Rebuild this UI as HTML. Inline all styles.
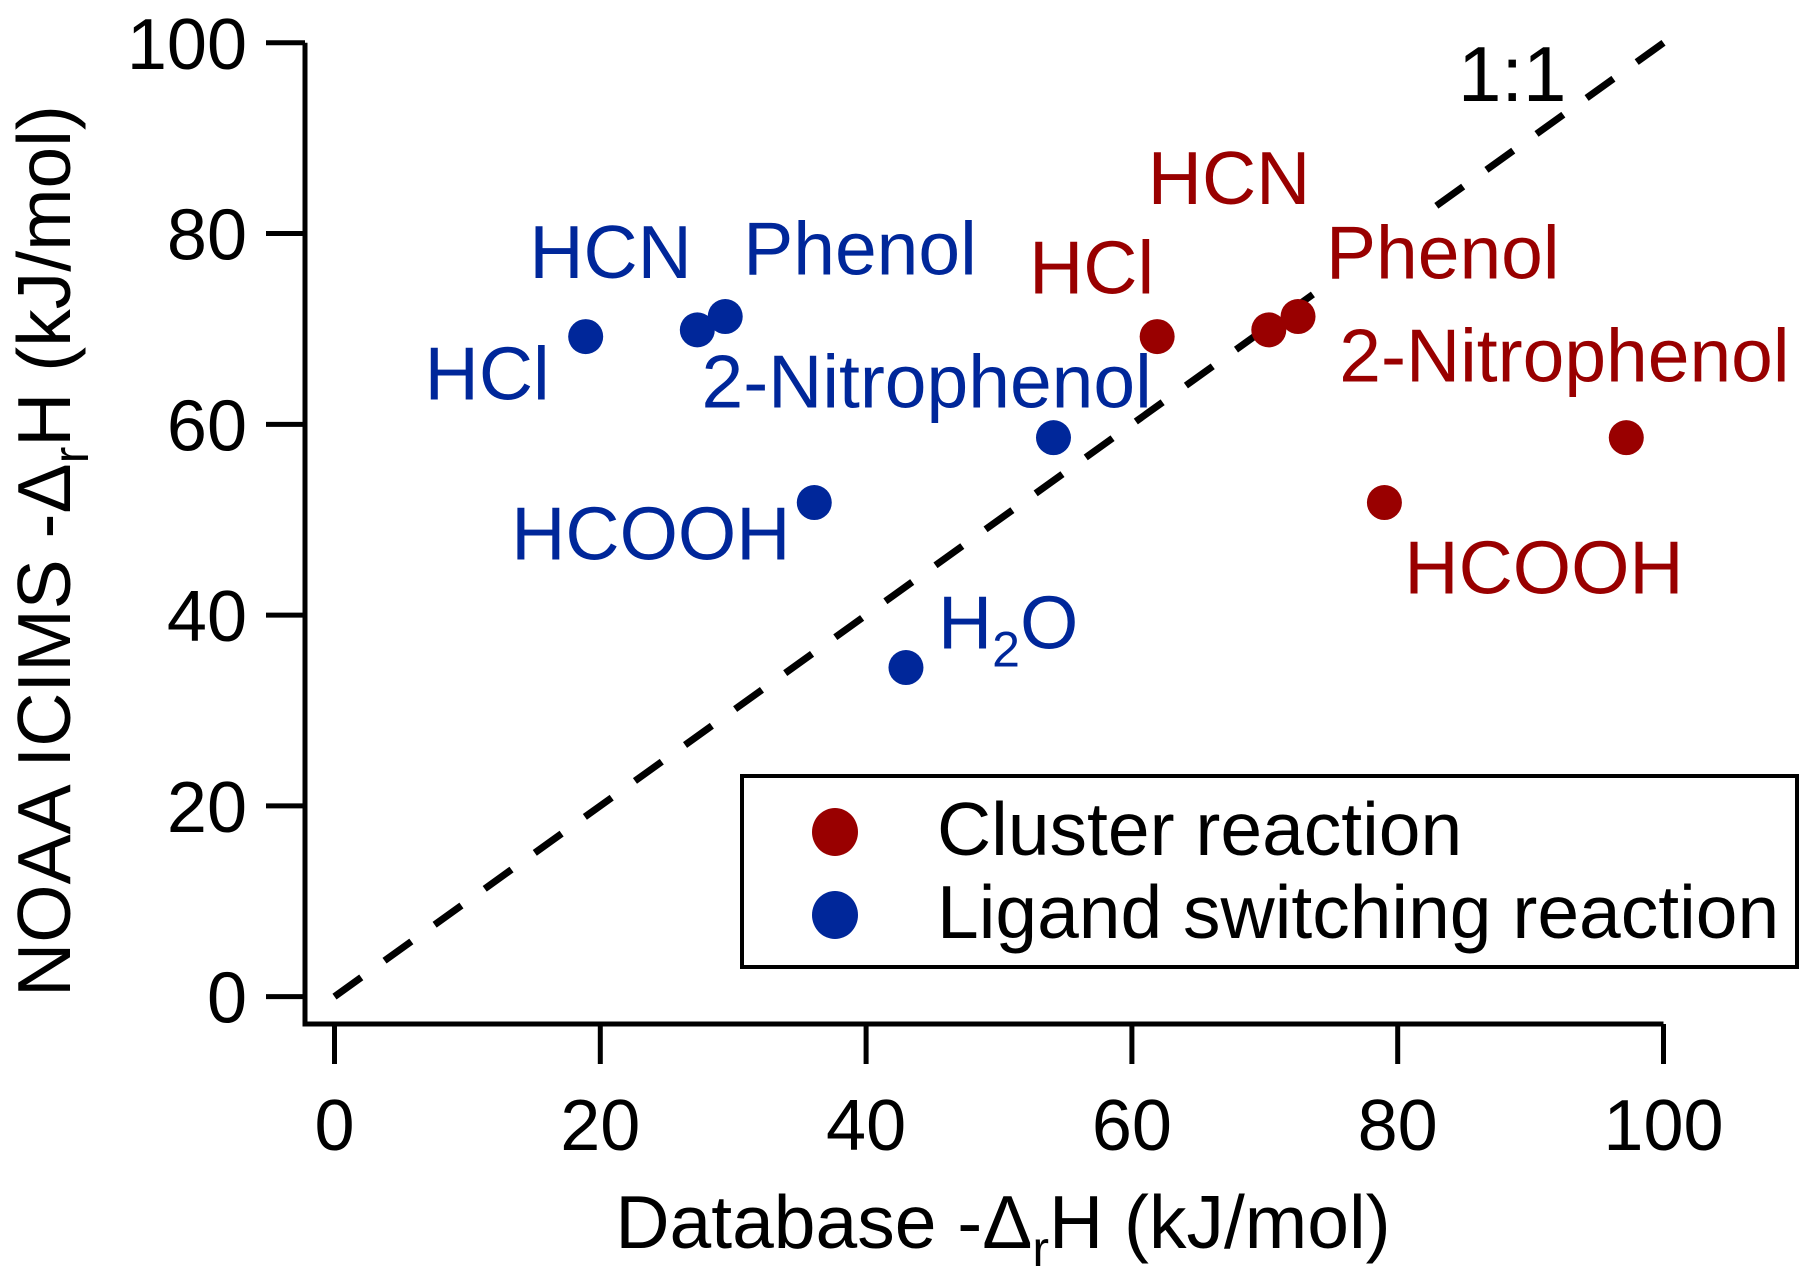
<!DOCTYPE html>
<html><head><meta charset="utf-8">
<style>
html,body{margin:0;padding:0;background:#fff;}
svg{display:block;font-family:"Liberation Sans",Arial,sans-serif;}
</style></head>
<body>
<svg id="chart" width="1815" height="1282" viewBox="0 0 1815 1282" xmlns="http://www.w3.org/2000/svg">
<rect width="1815" height="1282" fill="#fff"/>
<g id="plot"></g>
</svg>
<script>
const xTicks = [0,20,40,60,80,100];
const yTicks = [0,20,40,60,80,100];
const ligandNames = ["HCl","HCN","Phenol","2-Nitrophenol","HCOOH","H2O"];
const ligandX = [18.9,27.3,29.4,54.1,36.1,43.0];
const ligandY = [69.2,69.9,71.3,58.6,51.8,34.5];
const clusterNames = ["HCl","HCN","Phenol","2-Nitrophenol","HCOOH"];
const clusterX = [61.9,70.3,72.5,97.2,79.0];
const clusterY = [69.2,69.9,71.3,58.6,51.8];

const X0=334.5, X1=1663.5, Y0=996.6, Y1=42.8;
function sx(v){return X0+(X1-X0)*v/100;}
function sy(v){return Y0+(Y1-Y0)*v/100;}
const RED="#990000", BLUE="#00279a";
const NS="http://www.w3.org/2000/svg";
const plot=document.getElementById('plot');
function mk(tag,attrs,parent){const e=document.createElementNS(NS,tag);for(const k in attrs)e.setAttribute(k,attrs[k]);(parent||plot).appendChild(e);return e;}

// dashed 1:1 line
let l=mk('line',{x1:sx(100),y1:sy(100),x2:sx(0),y2:sy(0),stroke:'#000','stroke-width':7,'stroke-dasharray':'33 28.65'});



// axes
let ax=mk('path',{d:`M305,${sy(100)} L305,1024 L${sx(100)},1024`,fill:'none',stroke:'#000','stroke-width':5});


xTicks.forEach(t=>{
  let tk=mk('line',{x1:sx(t),y1:1024,x2:sx(t),y2:1064,stroke:'#000','stroke-width':5});
  
  
  let tl=mk('text',{x:sx(t),y:1150,'font-size':72,'text-anchor':'middle',fill:'#000'});
  tl.textContent=t;
  
  
});
yTicks.forEach(t=>{
  let tk=mk('line',{x1:266,y1:sy(t),x2:305,y2:sy(t),stroke:'#000','stroke-width':5});
  
  
  let tl=mk('text',{x:247,y:sy(t)+26,'font-size':72,'text-anchor':'end',fill:'#000'});
  tl.textContent=t;
  
  
});

const ligOff={"HCl":[-161,63],"HCN":[-168,-52],"Phenol":[18,-42],"2-Nitrophenol":[-352,-30],"HCOOH":[-303,57],"H2O":[32,-19]};
const cluOff={"HCl":[-128,-43],"HCN":[-121,-126],"Phenol":[28,-38],"2-Nitrophenol":[-287,-56],"HCOOH":[20,91]};

function labels(names,xs,ys,off,color,series){
  names.forEach((n,i)=>{
    const o=off[n];const x=sx(xs[i])+o[0], y=sy(ys[i])+o[1];
    if(series==='cluster'&&n==='Phenol'){
      let bg=mk('rect',{x:x-8,y:y-68,width:250,height:74,fill:'#fff'});
      
      
    }
    let t=mk('text',{x:x,y:y,'font-size':75,fill:color});
    if(n==='H2O'){
      t.innerHTML='H<tspan font-size="50" dy="18">2</tspan><tspan dy="-18">O</tspan>';
    } else t.textContent=n;
    
    
  });
}
function points(xs,ys,color,series){
  xs.forEach((v,i)=>{
    let c=mk('circle',{cx:sx(v),cy:sy(ys[i]),r:17.5,fill:color});
    
    
  });
}
labels(ligandNames,ligandX,ligandY,ligOff,BLUE,'ligand');
labels(clusterNames,clusterX,clusterY,cluOff,RED,'cluster');
points(ligandX,ligandY,BLUE,'ligand');
points(clusterX,clusterY,RED,'cluster');

let one=mk('text',{x:1458,y:101,'font-size':78,fill:'#000'});
one.textContent='1:1';



// legend
const lg=mk('g',{});


mk('rect',{x:742,y:776,width:1055,height:191,fill:'#fff',stroke:'#000','stroke-width':4},lg);
let m1=mk('ellipse',{cx:835,cy:832,rx:23,ry:24,fill:RED},lg);


let m2=mk('ellipse',{cx:835,cy:915,rx:23,ry:24,fill:BLUE},lg);


let t1=mk('text',{x:937,y:855,'font-size':75,fill:'#000'},lg);
t1.textContent='Cluster reaction';


let t2=mk('text',{x:937,y:938,'font-size':75,fill:'#000'},lg);
t2.textContent='Ligand switching reaction';



// axis titles
let xt=mk('text',{x:1003,y:1248,'font-size':75,'text-anchor':'middle',fill:'#000'});
xt.innerHTML='Database -Δ<tspan font-size="50" dy="18">r</tspan><tspan dy="-18">H (kJ/mol)</tspan>';


let yt=mk('text',{x:0,y:0,'font-size':75,'text-anchor':'middle',fill:'#000',transform:'translate(70,551) rotate(-90)'});
yt.innerHTML='NOAA ICIMS -Δ<tspan font-size="50" dy="18">r</tspan><tspan dy="-18">H (kJ/mol)</tspan>';


</script>
</body></html>
